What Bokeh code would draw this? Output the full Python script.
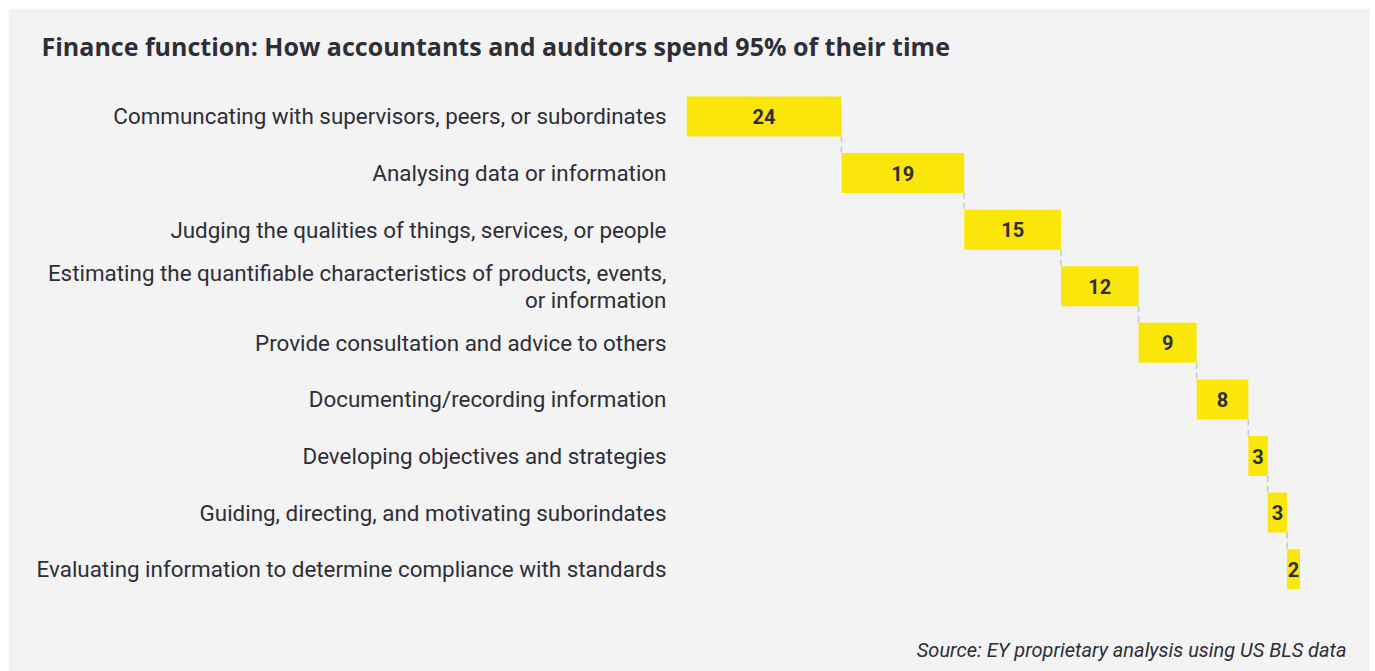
import numpy as np
from bokeh.plotting import figure
from bokeh.models import Range1d, FixedTicker, ColumnDataSource, Title
from bokeh.core.properties import value
from bokeh.embed import file_html
from bokeh.resources import INLINE

categories = [
    "Communcating with supervisors, peers, or subordinates",
    "Analysing data or information",
    "Judging the qualities of things, services, or people",
    "Estimating the quantifiable characteristics of products, events,\nor information",
    "Provide consultation and advice to others",
    "Documenting/recording information",
    "Developing objectives and strategies",
    "Guiding, directing, and motivating suborindates",
    "Evaluating information to determine compliance with standards",
]
values = [24, 19, 15, 12, 9, 8, 3, 3, 2]
title_text = "Finance function: How accountants and auditors spend 95% of their time"
source_text = "Source: EY proprietary analysis using US BLS data"

BG = "#f2f3f2"
YELLOW = "#fbe60a"
DARK = "#2e2e38"
FONT = "Roboto"

vals = np.array(values, dtype=float)
ends = np.cumsum(vals)
starts = ends - vals
rows = np.arange(len(values))

src = ColumnDataSource(dict(
    y=rows, left=starts, right=ends, mid=(starts + ends) / 2,
    lab=[str(v) for v in values],
))

p = figure(width=1362, height=663, output_backend="svg", toolbar_location=None,
           x_range=Range1d(0, 102.2), y_range=Range1d(9.03, -0.60),
           x_axis_location=None, min_border_left=678, min_border_right=24,
           min_border_top=0, min_border_bottom=0)
p.styles = {"margin-left": "8px", "margin-top": "8px"}
p.background_fill_color = BG
p.border_fill_color = BG
p.outline_line_color = None
p.grid.visible = False

p.hbar(y="y", left="left", right="right", height=0.707, source=src,
       fill_color=YELLOW, line_color=None)

h = 0.707 / 2
p.segment(x0=ends[:-1], y0=rows[:-1] + h, x1=ends[:-1], y1=rows[1:] - h,
          line_color="#c4c6cc", line_width=1.5, line_dash="6 4")

p.text(x="mid", y="y", text="lab", source=src, text_align="center",
       text_baseline="middle", text_font=value(FONT), text_font_style="bold",
       text_font_size="20px", text_color=DARK)

ax = p.yaxis[0]
ax.ticker = FixedTicker(ticks=list(rows))
ax.major_label_overrides = {int(i): c for i, c in zip(rows, categories)}
ax.axis_line_color = None
ax.major_tick_line_color = None
ax.minor_tick_line_color = None
ax.major_label_text_font = FONT
ax.major_label_text_font_size = "22.4px"
ax.major_label_text_line_height = 1.05
ax.major_label_text_color = DARK
ax.major_label_standoff = 14

t = Title(text=title_text, align="left", offset=-645, standoff=37.5,
          vertical_align="middle",
          text_font="Open Sans", text_font_style="bold", text_font_size="25px",
          text_color=DARK)
p.add_layout(t, "above")

s = Title(text=source_text, align="right", standoff=18,
          vertical_align="middle",
          text_font=FONT, text_font_style="italic", text_font_size="20px",
          text_color=DARK)
p.add_layout(s, "below")

open("out.html", "w").write(file_html(p, INLINE))
